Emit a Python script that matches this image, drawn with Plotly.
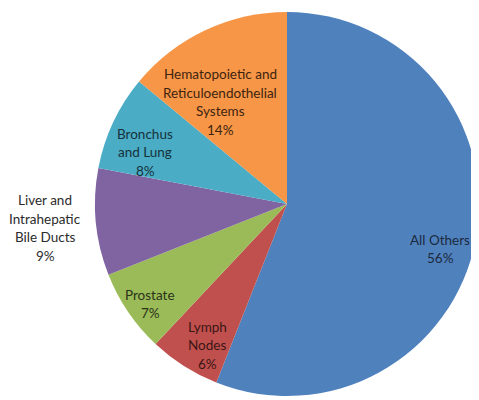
import plotly.graph_objects as go

# Data
labels = ["All Others", "Lymph Nodes", "Prostate", "Liver and Intrahepatic Bile Ducts",
          "Bronchus and Lung", "Hematopoietic and Reticuloendothelial Systems"]
values = [56, 6, 7, 9, 8, 14]
label_lines = [["All Others"], ["Lymph", "Nodes"], ["Prostate"],
               ["Liver and", "Intrahepatic", "Bile Ducts"], ["Bronchus", "and Lung"],
               ["Hematopoietic and", "Reticuloendothelial", "Systems"]]

# Styles
colors = ["#4F81BD", "#C0504D", "#9BBB59", "#8064A2", "#4BACC6", "#F79646"]
text_colors = ["#1c2a3e", "#3a1615", "#2a3318", "#2b2b2b", "#15323a", "#3d2410"]
# label block centers in window pixels (x, y from top)
label_pos = [(440, 249), (207, 345), (150, 304), (45, 228), (145, 152), (220, 102)]
LINE_H = 18.5
OFF = 8  # page body margin
W, H = 479 - OFF, 400 - OFF

fig = go.Figure(go.Pie(
    labels=labels,
    values=values,
    sort=False,
    direction="clockwise",
    rotation=0,
    marker=dict(colors=colors, line=dict(width=0)),
    textinfo="none",
    hoverinfo="label+percent",
    showlegend=False,
    domain=dict(x=[(95 - OFF) / W, 1.0], y=[1 - (396 - OFF) / H, 1 - (12 - OFF) / H]),
))

total = sum(values)
for lines, v, (px, py), tc in zip(label_lines, values, label_pos, text_colors):
    pct = f"{round(100 * v / total)}%"
    all_lines = lines + [pct]
    n = len(all_lines)
    for i, ln in enumerate(all_lines):
        ly = py + (i - (n - 1) / 2) * LINE_H
        fig.add_annotation(
            x=(px - OFF) / W, y=1 - (ly - OFF) / H, xref="paper", yref="paper",
            text=ln, showarrow=False, xanchor="center", yanchor="middle",
            font=dict(family="Lato, Open Sans, sans-serif", size=13.5, color=tc),
        )

fig.update_layout(
    width=W, height=H,
    margin=dict(l=0, r=0, t=0, b=0),
    paper_bgcolor="white",
    plot_bgcolor="white",
)

fig.write_html("out.html")
